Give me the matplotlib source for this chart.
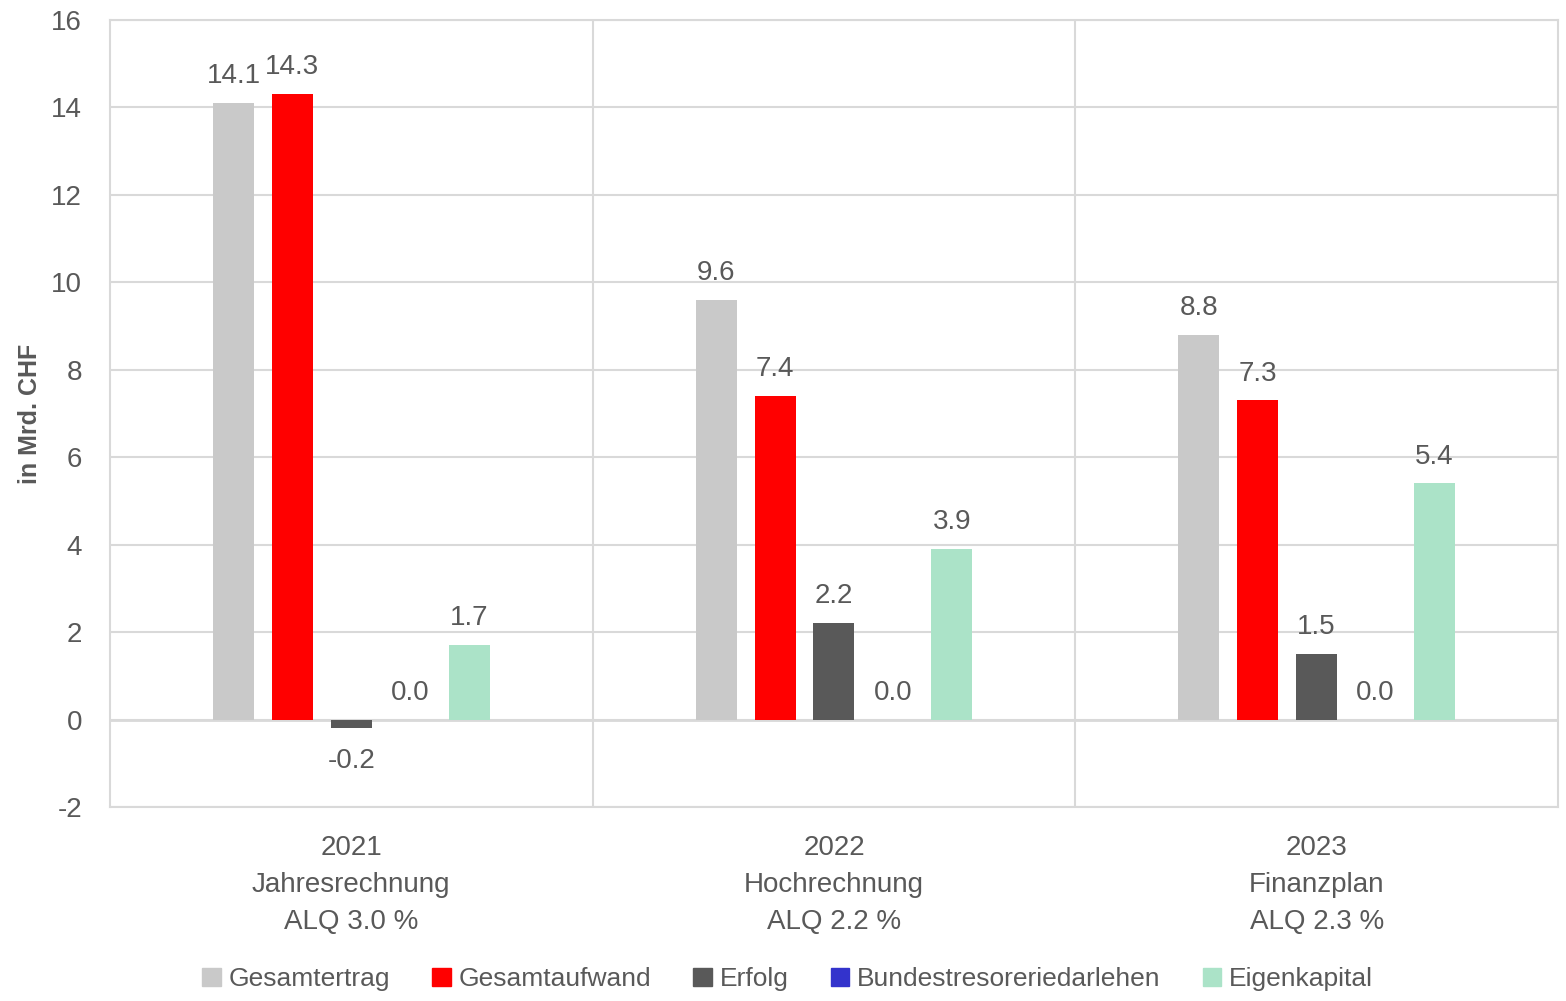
import matplotlib
matplotlib.use("Agg")
import matplotlib.pyplot as plt
from matplotlib import font_manager
from matplotlib.patches import Patch
import numpy as np

# pick a narrow font if available
names = {f.name for f in font_manager.fontManager.ttflist}
for fam in ["Liberation Sans Narrow", "DejaVu Sans Condensed", "Liberation Sans"]:
    if fam in names:
        plt.rcParams['font.family'] = fam
        break
plt.rcParams['axes.unicode_minus'] = False

groups = ["2021\nJahresrechnung\nALQ 3.0 %", "2022\nHochrechnung\nALQ 2.2 %", "2023\nFinanzplan\nALQ 2.3 %"]
series = ["Gesamtertrag", "Gesamtaufwand", "Erfolg", "Bundestresoreriedarlehen", "Eigenkapital"]
gesamtertrag = [14.1, 9.6, 8.8]
gesamtaufwand = [14.3, 7.4, 7.3]
erfolg = [-0.2, 2.2, 1.5]
darlehen = [0.0, 0.0, 0.0]
eigenkapital = [1.7, 3.9, 5.4]
colors = ["#C9C9C9", "#FF0000", "#595959", "#3333CC", "#ABE3C8"]
values = [gesamtertrag, gesamtaufwand, erfolg, darlehen, eigenkapital]

text_col = "#595959"
grid_col = "#D9D9D9"

fig = plt.figure(figsize=(15.66, 10.01), dpi=100)
ax = fig.add_axes([0.0702, 0.1938, 0.9247, 0.7862])

x = np.arange(len(groups))
step = 0.122
width = 0.085
for i, (vals, col) in enumerate(zip(values, colors)):
    pos = x + (i - 2) * step
    ax.bar(pos, vals, width=width, color=col, zorder=3)
    for p, v in zip(pos, vals):
        if v < 0:
            ax.annotate(f"{v:.1f}", (p, v), xytext=(0, -14), textcoords="offset points",
                        ha="center", va="top", fontsize=20, color=text_col)
        else:
            ax.annotate(f"{v:.1f}", (p, v), xytext=(0, 10), textcoords="offset points",
                        ha="center", va="bottom", fontsize=20, color=text_col)

ax.set_xlim(-0.5, 2.5)
ax.set_ylim(-2, 16)
ax.set_yticks(range(-2, 17, 2))
ax.set_xticks(x)
ax.set_xticklabels(groups, fontsize=20, color=text_col, linespacing=1.55)
ax.tick_params(axis='y', labelsize=20, labelcolor=text_col, length=0, pad=20)
ax.tick_params(axis='x', length=0, pad=20)
ax.yaxis.grid(True, color=grid_col, linewidth=1.5, zorder=0)
for sep in [0.5, 1.5]:
    ax.axvline(sep, color=grid_col, linewidth=1.5, zorder=0)
ax.axhline(0, color=grid_col, linewidth=2, zorder=2)
for s in ax.spines.values():
    s.set_color(grid_col)
    s.set_linewidth(1.5)

ax.set_ylabel("in Mrd. CHF", fontsize=18, fontweight="bold", color=text_col)
ax.yaxis.set_label_coords(-0.047, 0.5)

handles = [Patch(color=c, label=s) for s, c in zip(series, colors)]
fig.legend(handles=handles, loc="center", bbox_to_anchor=(0.503, 0.022), ncol=5, frameon=False,
           fontsize=19, labelcolor=text_col, handlelength=0.7, handleheight=0.7,
           handletextpad=0.3, columnspacing=1.6)

fig.savefig("out.png", dpi=100)
